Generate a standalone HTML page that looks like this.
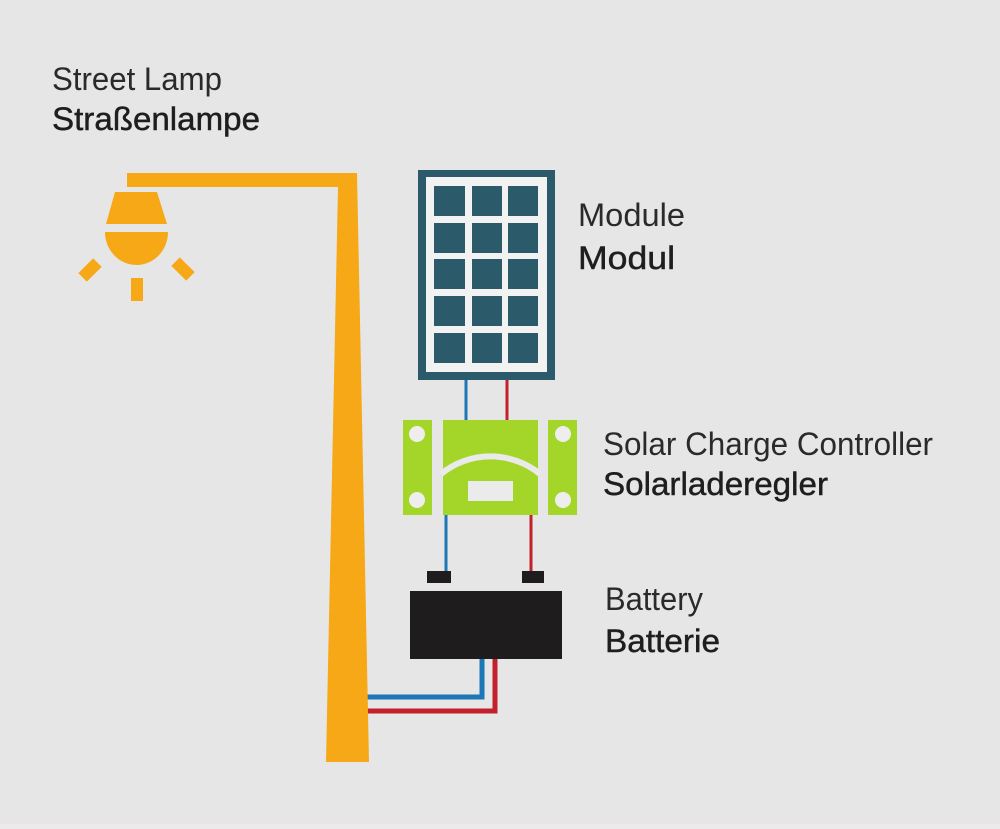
<!DOCTYPE html>
<html>
<head>
<meta charset="utf-8">
<style>
  html,body{margin:0;padding:0;background:#e7e6e6;}
  svg{display:block;}
  .t{font-family:"Liberation Sans", sans-serif;font-size:32px;fill:#2a2a2a;}
  .b{font-family:"Liberation Sans", sans-serif;font-size:32px;fill:#1e1e1e;stroke:#1e1e1e;stroke-width:0.45px;}
</style>
</head>
<body>
<svg width="1000" height="829" viewBox="0 0 1000 829" xmlns="http://www.w3.org/2000/svg">
  <rect x="0" y="0" width="1000" height="829" fill="#e7e6e6"/>
  <rect x="0" y="824" width="1000" height="5" fill="#eceaea"/>

  <!-- bottom wires (behind pole) -->
  <path d="M350 697 H482 V655" fill="none" stroke="#1d76b6" stroke-width="5"/>
  <path d="M350 711 H495 V655" fill="none" stroke="#c2202c" stroke-width="5"/>

  <!-- Street lamp pole -->
  <polygon points="127,173 357,173 369,762 326,762 338,187 127,187" fill="#f6a816"/>
  <!-- lamp head -->
  <polygon points="115,192 157,192 167,224 106,224" fill="#f6a816"/>
  <path d="M105 232 A31.5 33 0 0 0 168 232 Z" fill="#f6a816"/>
  <!-- rays -->
  <rect x="79.5" y="264" width="21" height="12" fill="#f6a816" transform="rotate(-45 90 270)"/>
  <rect x="172.5" y="263" width="21" height="12" fill="#f6a816" transform="rotate(45 183 269)"/>
  <rect x="131" y="278" width="12" height="23" fill="#f6a816"/>

  <!-- Solar module -->
  <rect x="418" y="170" width="137" height="210" fill="#2b5a6a"/>
  <rect x="426" y="177" width="121" height="195" fill="#f2f2f2"/>
  <g fill="#2b5a6a">
    <rect x="434" y="186" width="31" height="30"/><rect x="472" y="186" width="30" height="30"/><rect x="508" y="186" width="30" height="30"/>
    <rect x="434" y="223" width="31" height="30"/><rect x="472" y="223" width="30" height="30"/><rect x="508" y="223" width="30" height="30"/>
    <rect x="434" y="259" width="31" height="30"/><rect x="472" y="259" width="30" height="30"/><rect x="508" y="259" width="30" height="30"/>
    <rect x="434" y="296" width="31" height="30"/><rect x="472" y="296" width="30" height="30"/><rect x="508" y="296" width="30" height="30"/>
    <rect x="434" y="333" width="31" height="30"/><rect x="472" y="333" width="30" height="30"/><rect x="508" y="333" width="30" height="30"/>
  </g>

  <!-- wires module -> controller -->
  <line x1="466" y1="380" x2="466" y2="421" stroke="#1d76b6" stroke-width="3"/>
  <line x1="507" y1="380" x2="507" y2="421" stroke="#c2202c" stroke-width="3"/>

  <!-- Charge controller -->
  <rect x="403" y="420" width="29" height="95" fill="#a4d62a"/>
  <rect x="548" y="420" width="29" height="95" fill="#a4d62a"/>
  <circle cx="417" cy="434" r="8" fill="#eeeeee"/>
  <circle cx="417" cy="500" r="8" fill="#eeeeee"/>
  <circle cx="563" cy="434" r="8" fill="#eeeeee"/>
  <circle cx="563" cy="500" r="8" fill="#eeeeee"/>
  <rect x="443" y="420" width="95" height="95" fill="#a4d62a"/>
  <path d="M441 474 A78.5 78.5 0 0 1 540 474" fill="none" stroke="#eaeaea" stroke-width="6"/>
  <rect x="468" y="481" width="45" height="20" fill="#ebebeb"/>

  <!-- wires controller -> battery -->
  <line x1="446" y1="515" x2="446" y2="573" stroke="#1d76b6" stroke-width="3"/>
  <line x1="531" y1="515" x2="531" y2="573" stroke="#c2202c" stroke-width="3"/>

  <!-- Battery -->
  <rect x="427" y="571" width="24" height="12" fill="#1e1c1c"/>
  <rect x="522" y="571" width="22" height="12" fill="#1e1c1c"/>
  <rect x="410" y="591" width="152" height="68" fill="#1e1c1c"/>

  <!-- Labels -->
  <text class="t" x="52" y="90" textLength="170" lengthAdjust="spacingAndGlyphs">Street Lamp</text>
  <text class="b" x="52" y="130" textLength="208" lengthAdjust="spacingAndGlyphs">Straßenlampe</text>

  <text class="t" x="578" y="226" textLength="107" lengthAdjust="spacingAndGlyphs">Module</text>
  <text class="b" x="578" y="269" textLength="97" lengthAdjust="spacingAndGlyphs">Modul</text>

  <text class="t" x="603" y="455" textLength="330" lengthAdjust="spacingAndGlyphs">Solar Charge Controller</text>
  <text class="b" x="603" y="495" textLength="225" lengthAdjust="spacingAndGlyphs">Solarladeregler</text>

  <text class="t" x="605" y="610" textLength="98" lengthAdjust="spacingAndGlyphs">Battery</text>
  <text class="b" x="605" y="652" textLength="115" lengthAdjust="spacingAndGlyphs">Batterie</text>
</svg>
</body>
</html>
